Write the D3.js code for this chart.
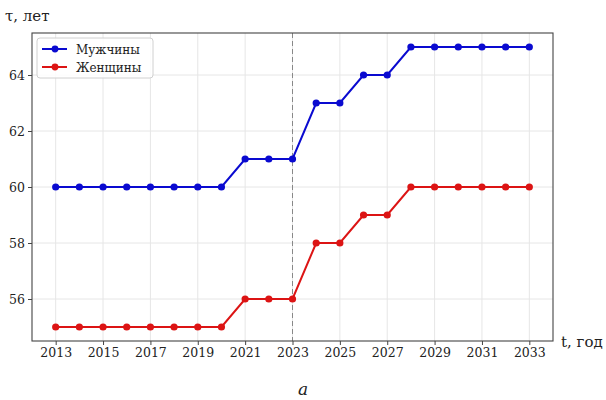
<!DOCTYPE html>
<html>
<head>
<meta charset="utf-8">
<script src="https://cdn.jsdelivr.net/npm/d3@7"></script>
<style>
  body { margin: 0; background: #fff; }
  svg text { font-family: "DejaVu Serif", serif; fill: #222; }
</style>
</head>
<body>
<script>
// years and retirement age per series
var years = [2013,2014,2015,2016,2017,2018,2019,2020,2021,2022,2023,
             2024,2025,2026,2027,2028,2029,2030,2031,2032,2033];
var men   = [60,60,60,60,60,60,60,60,61,61,61,63,63,64,64,65,65,65,65,65,65];
var women = [55,55,55,55,55,55,55,55,56,56,56,58,58,59,59,60,60,60,60,60,60];
var xTickValues = [2013,2015,2017,2019,2021,2023,2025,2027,2029,2031,2033];
var yTickValues = [56,58,60,62,64];
var seriesNames = ["Мужчины", "Женщины"];
var seriesColors = ["#0a0ad0", "#dc1414"];
var markYear = 2023;

var W = 606, H = 400;
var margin = {top: 33, right: 53, bottom: 59, left: 32};
var width = W - margin.left - margin.right,
    height = H - margin.top - margin.bottom;

var svg = d3.select("body").append("svg").attr("width", W).attr("height", H);
var g = svg.append("g").attr("transform", "translate(" + margin.left + "," + margin.top + ")");

var x = d3.scaleLinear().domain([2012, 2034]).range([0, width]);
var y = d3.scaleLinear().domain([54.5, 65.5]).range([height, 0]);

// grid
g.selectAll(".gx").data(xTickValues).enter().append("line")
  .attr("x1", d => x(d)).attr("x2", d => x(d))
  .attr("y1", 0).attr("y2", height)
  .attr("stroke", "#e6e6e6").attr("stroke-width", 1);
g.selectAll(".gy").data(yTickValues).enter().append("line")
  .attr("x1", 0).attr("x2", width)
  .attr("y1", d => y(d)).attr("y2", d => y(d))
  .attr("stroke", "#e6e6e6").attr("stroke-width", 1);

// dashed marker line
g.append("line")
  .attr("x1", x(markYear)).attr("x2", x(markYear))
  .attr("y1", 0).attr("y2", height)
  .attr("stroke", "#888").attr("stroke-width", 1)
  .attr("stroke-dasharray", "5,3");

// axes
var xAxis = d3.axisBottom(x).tickValues(xTickValues).tickFormat(d3.format("d")).tickSize(4).tickPadding(3);
var yAxis = d3.axisLeft(y).tickValues(yTickValues).tickSize(4).tickPadding(3);

var gx = g.append("g").attr("transform", "translate(0," + height + ")").call(xAxis);
var gy = g.append("g").call(yAxis);
[gx, gy].forEach(function(a) {
  a.select(".domain").remove();
  a.selectAll("line").attr("stroke", "#444");
  a.selectAll("text").style("font-size", "12.5px").style("font-family", "DejaVu Serif, serif").attr("fill", "#222");
});

// frame
g.append("rect").attr("width", width).attr("height", height)
  .attr("fill", "none").attr("stroke", "#444").attr("stroke-width", 1.1);

// series
var line = d3.line().x(d => x(d[0])).y(d => y(d[1]));
[men, women].forEach(function(vals, i) {
  var pts = years.map((yr, j) => [yr, vals[j]]);
  g.append("path").datum(pts)
    .attr("d", line).attr("fill", "none")
    .attr("stroke", seriesColors[i]).attr("stroke-width", 2);
  g.selectAll(".pt" + i).data(pts).enter().append("circle")
    .attr("cx", d => x(d[0])).attr("cy", d => y(d[1])).attr("r", 3.6)
    .attr("fill", seriesColors[i]);
});

// legend
var lg = g.append("g").attr("transform", "translate(5,5)");
lg.append("rect").attr("width", 116).attr("height", 40).attr("rx", 3)
  .attr("fill", "#fff").attr("fill-opacity", 0.85).attr("stroke", "#d0d0d0");
seriesNames.forEach(function(n, i) {
  var yy = 11 + i * 18;
  lg.append("line").attr("x1", 5).attr("x2", 30).attr("y1", yy).attr("y2", yy)
    .attr("stroke", seriesColors[i]).attr("stroke-width", 2);
  lg.append("circle").attr("cx", 18).attr("cy", yy).attr("r", 3.4).attr("fill", seriesColors[i]);
  lg.append("text").attr("x", 39).attr("y", yy + 4.5).style("font-size", "12px").text(n);
});

// axis labels
svg.append("text").attr("x", 5).attr("y", 21).style("font-size", "15px").text("τ, лет");
svg.append("text").attr("x", 561).attr("y", 347).style("font-size", "15px").text("t, год");
svg.append("text").attr("x", 303).attr("y", 395).attr("text-anchor", "middle")
  .style("font-size", "17px").style("font-style", "italic").text("а");
</script>
</body>
</html>
